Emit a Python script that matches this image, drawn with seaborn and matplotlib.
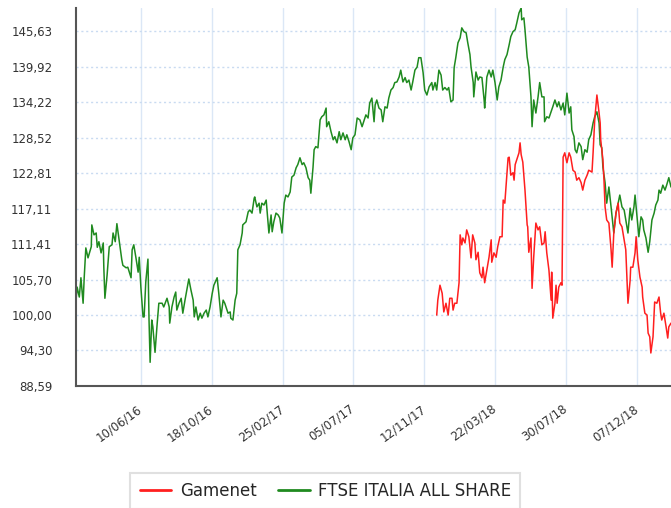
import pandas as pd
import matplotlib
matplotlib.use("Agg")
import matplotlib.pyplot as plt
import seaborn as sns

# day offsets from the first session shown (12/02/16)
start = pd.Timestamp("2016-02-12")

ftse_days = [
    0, 2, 6, 9, 13, 15, 18, 22, 28, 29,
    33, 37, 39, 42, 46, 50, 51, 53, 57, 61,
    66, 68, 72, 75, 79, 84, 86, 92, 95, 101,
    103, 106, 110, 114, 116, 119, 123, 125, 128, 132,
    134, 136, 139, 141, 145, 149, 152, 158, 161, 167,
    171, 172, 176, 180, 183, 185, 189, 193, 196, 200,
    204, 207, 211, 215, 217, 220, 224, 228, 231, 235,
    239, 242, 246, 250, 253, 259, 262, 266, 270, 273,
    279, 283, 284, 288, 292, 295, 297, 301, 305, 306,
    312, 316, 319, 323, 327, 328, 332, 336, 338, 341,
    345, 349, 352, 354, 358, 360, 363, 367, 371, 374,
    378, 382, 385, 389, 393, 396, 400, 404, 407, 411,
    415, 418, 422, 426, 429, 431, 435, 437, 440, 444,
    448, 451, 455, 459, 460, 464, 468, 472, 475, 479,
    483, 486, 490, 494, 497, 501, 505, 508, 512, 516,
    521, 525, 528, 532, 536, 539, 543, 547, 549, 552,
    556, 560, 563, 567, 571, 574, 578, 582, 585, 589,
    593, 596, 600, 604, 607, 611, 615, 618, 622, 626,
    629, 633, 637, 640, 644, 648, 653, 655, 659, 662,
    666, 670, 673, 677, 681, 684, 688, 692, 694, 697,
    701, 705, 708, 712, 716, 719, 723, 725, 729, 730,
    734, 738, 741, 745, 749, 750, 754, 758, 762, 765,
    769, 773, 776, 780, 784, 787, 791, 795, 798, 802,
    806, 809, 813, 817, 818, 822, 824, 828, 831, 835,
    837, 840, 844, 848, 851, 855, 859, 860, 864, 868,
    872, 875, 879, 883, 886, 890, 894, 897, 901, 905,
    908, 910, 914, 916, 919, 923, 927, 930, 934, 938,
    941, 945, 949, 952, 956, 960, 962, 965, 967, 971,
    974, 978, 982, 985, 987, 991, 995, 998, 1002, 1006,
    1009, 1013, 1017, 1020, 1024, 1026, 1029, 1033, 1037, 1040,
    1042, 1046, 1050, 1053, 1057, 1061, 1064, 1068, 1070, 1073,
    1077, 1081, 1084, 1088, 1092,
]
ftse_values = [
    102.4, 104.5, 102.9, 106.0, 101.9, 106.0, 110.8, 109.2, 111.0, 114.5,
    112.9, 113.2, 110.9, 111.8, 110.0, 111.6, 107.7, 102.7, 106.4, 111.0,
    111.3, 113.2, 111.8, 114.7, 112.1, 108.9, 108.0, 107.6, 107.7, 106.0,
    110.5, 111.3, 109.2, 106.9, 109.3, 104.5, 99.7, 99.7, 105.3, 109.0,
    99.2, 92.4, 99.2, 98.1, 94.0, 98.7, 101.9, 101.9, 101.3, 102.7,
    101.3, 98.7, 101.3, 102.9, 103.7, 100.8, 101.9, 102.7, 100.3, 102.4,
    104.3, 105.8, 104.0, 102.4, 99.7, 101.3, 99.2, 100.3, 99.5, 100.3,
    100.8, 99.7, 101.3, 103.5, 104.8, 106.0, 103.5, 99.7, 102.4, 101.9,
    100.3, 100.5, 99.5, 99.2, 102.4, 103.5, 110.5, 111.3, 113.2, 114.5,
    115.0, 116.6, 116.9, 116.4, 118.8, 119.0, 117.4, 118.0, 116.4, 118.0,
    117.7, 118.5, 115.3, 113.2, 116.1, 113.4, 115.0, 116.4, 116.1, 115.6,
    113.2, 118.0, 119.3, 119.0, 119.8, 122.2, 122.5, 123.7, 124.2, 125.3,
    124.2, 124.5, 123.7, 122.1, 121.7, 119.6, 123.8, 126.6, 127.1, 126.9,
    131.4, 131.9, 132.2, 133.3, 130.3, 131.1, 129.5, 128.2, 128.7, 127.7,
    129.5, 128.2, 129.3, 128.2, 129.0, 127.9, 126.6, 128.5, 129.0, 131.7,
    131.4, 130.3, 131.1, 132.2, 131.7, 134.1, 134.9, 131.1, 133.8, 134.6,
    133.3, 133.0, 131.1, 133.5, 133.3, 134.9, 136.2, 136.6, 137.4, 137.5,
    138.3, 139.4, 137.5, 138.2, 137.4, 137.8, 136.2, 137.5, 139.4, 139.9,
    141.4, 141.4, 139.0, 136.2, 135.4, 136.7, 137.4, 136.2, 137.4, 136.2,
    139.4, 138.6, 136.2, 136.6, 136.2, 136.6, 134.3, 134.6, 139.8, 141.4,
    143.8, 144.6, 146.2, 145.6, 145.4, 143.8, 141.9, 139.9, 137.4, 135.1,
    139.1, 137.8, 138.3, 138.2, 134.6, 133.3, 138.3, 139.4, 138.3, 139.4,
    137.4, 134.6, 136.7, 137.8, 139.9, 141.1, 141.9, 143.5, 144.8, 145.6,
    145.9, 147.0, 148.6, 149.4, 147.5, 147.8, 145.9, 141.5, 139.9, 135.1,
    130.3, 134.6, 132.5, 135.1, 137.4, 135.1, 135.1, 131.1, 131.9, 131.7,
    132.7, 133.5, 134.6, 133.5, 134.3, 133.0, 134.1, 132.2, 135.7, 132.5,
    133.5, 129.8, 128.7, 126.6, 126.1, 127.7, 127.1, 125.0, 126.6, 126.2,
    128.2, 129.0, 130.9, 131.9, 132.7, 130.9, 127.4, 126.9, 123.8, 121.3,
    118.0, 120.6, 117.4, 114.8, 113.2, 116.4, 118.0, 119.3, 117.4, 116.9,
    115.3, 113.2, 117.2, 115.3, 117.4, 119.3, 116.4, 112.6, 115.8, 115.3,
    113.7, 112.4, 110.1, 111.8, 115.3, 116.4, 117.7, 118.5, 120.1, 119.6,
    120.9, 120.1, 120.9, 122.1, 120.6,
]

gamenet_days = [
    662, 664, 668, 672, 675, 679, 683, 686, 690, 692,
    695, 699, 703, 705, 708, 710, 714, 717, 721, 725,
    728, 732, 734, 738, 741, 745, 747, 750, 754, 758,
    762, 763, 767, 771, 774, 778, 782, 784, 787, 791,
    793, 795, 798, 802, 804, 806, 809, 813, 815, 817,
    820, 824, 828, 829, 831, 835, 837, 840, 844, 848,
    851, 855, 859, 861, 864, 868, 872, 873, 875, 879,
    881, 883, 886, 890, 892, 894, 897, 901, 905, 908,
    912, 916, 919, 923, 927, 930, 934, 938, 941, 947,
    949, 952, 956, 960, 962, 963, 967, 969, 971, 974,
    978, 982, 984, 987, 991, 995, 998, 1002, 1006, 1009,
    1011, 1013, 1017, 1018, 1022, 1026, 1028, 1031, 1035, 1039,
    1040, 1044, 1048, 1050, 1053, 1055, 1059, 1062, 1066, 1070,
    1073, 1075, 1079, 1083, 1086, 1088, 1092,
]
gamenet_values = [
    100.0, 102.4, 104.8, 103.5, 100.5, 101.9, 100.0, 102.7, 102.7, 100.8,
    101.9, 101.9, 105.2, 112.9, 111.3, 112.4, 111.6, 113.7, 112.6, 109.2,
    112.9, 111.6, 108.9, 110.1, 106.8, 106.0, 107.7, 105.2, 107.2, 109.3,
    112.1, 108.5, 110.0, 109.3, 111.0, 112.6, 112.6, 118.5, 118.0, 122.9,
    125.3, 125.4, 122.5, 122.9, 121.7, 124.2, 125.0, 126.1, 127.7, 125.8,
    124.6, 120.1, 114.5, 114.2, 110.1, 112.4, 104.3, 109.3, 114.8, 113.7,
    114.2, 111.3, 111.6, 113.4, 110.0, 107.2, 102.4, 106.9, 99.5, 101.9,
    104.8, 101.9, 104.5, 105.2, 104.8, 125.4, 126.1, 124.5, 126.1, 125.4,
    123.3, 123.0, 121.7, 122.1, 121.3, 120.1, 121.7, 122.5, 123.3, 123.0,
    126.1, 131.4, 135.4, 132.5, 130.9, 128.2, 125.0, 121.7, 117.4, 115.3,
    114.8, 110.5, 107.7, 113.2, 116.4, 118.0, 114.8, 114.2, 112.1, 110.5,
    106.1, 101.9, 105.6, 107.7, 107.7, 110.0, 112.6, 108.9, 106.1, 104.5,
    102.9, 100.3, 100.0, 97.1, 96.5, 93.9, 96.5, 102.1, 101.9, 102.9,
    100.3, 99.2, 100.3, 98.1, 96.3, 98.1, 98.7,
]

tick_labels = ["10/06/16", "18/10/16", "25/02/17", "05/07/17",
               "12/11/17", "22/03/18", "30/07/18", "07/12/18"]
y_ticks = [88.59, 94.30, 100.00, 105.70, 111.41, 117.11,
           122.81, 128.52, 134.22, 139.92, 145.63]

ftse = pd.DataFrame({"date": start + pd.to_timedelta(ftse_days, unit="D"),
                     "value": ftse_values})
gamenet = pd.DataFrame({"date": start + pd.to_timedelta(gamenet_days, unit="D"),
                        "value": gamenet_values})
tick_dates = pd.to_datetime(tick_labels, format="%d/%m/%y")

sns.set_theme(style="white")
plt.rcParams["font.family"] = ["DejaVu Sans"]

fig, ax = plt.subplots(figsize=(6.71, 5.08), dpi=100)
fig.subplots_adjust(left=0.1133, right=1.0, bottom=0.2402, top=0.9843)

grid_blue = "#dbe7f6"
sns.lineplot(data=ftse, x="date", y="value", color="#1f8a1f", lw=1.1,
             ax=ax, label="FTSE ITALIA ALL SHARE")
sns.lineplot(data=gamenet, x="date", y="value", color="#ff1f1f", lw=1.1,
             ax=ax, label="Gamenet")

ax.set_xlim(start, start + pd.Timedelta(days=1092))
ax.set_ylim(88.59, 149.4)
ax.set_xlabel("")
ax.set_ylabel("")

ax.set_yticks(y_ticks)
ax.set_yticklabels([f"{v:.2f}".replace(".", ",") for v in y_ticks],
                   fontsize=8.5, color="#333333")
ax.set_xticks(tick_dates)
ax.set_xticklabels(tick_labels, rotation=36, ha="right", va="center",
                   rotation_mode="anchor", fontsize=8.5, color="#333333")

ax.yaxis.grid(True, linestyle=(0, (1.5, 2)), color="#c9dbf1", lw=1)
ax.xaxis.grid(True, linestyle="-", color=grid_blue, lw=1)
ax.tick_params(axis="x", length=11.5, width=1, color=grid_blue, pad=4)
ax.tick_params(axis="y", length=14, width=1, color=grid_blue, pad=3)

for side in ["top", "right"]:
    ax.spines[side].set_visible(False)
for side in ["left", "bottom"]:
    ax.spines[side].set_color("#555555")
    ax.spines[side].set_linewidth(1.5)

handles, labels = ax.get_legend_handles_labels()
ax.get_legend().remove()
leg = fig.legend([handles[1], handles[0]], [labels[1], labels[0]],
                 loc="upper center", bbox_to_anchor=(0.485, 0.069), ncol=2,
                 frameon=True, fancybox=False, edgecolor="#d9d9d9",
                 fontsize=12, handlelength=1.9, handletextpad=0.5,
                 columnspacing=1.3, borderpad=0.55, borderaxespad=0)
leg.get_frame().set_linewidth(1.5)
for line in leg.get_lines():
    line.set_linewidth(2)

plt.savefig("out.png", dpi=100)
